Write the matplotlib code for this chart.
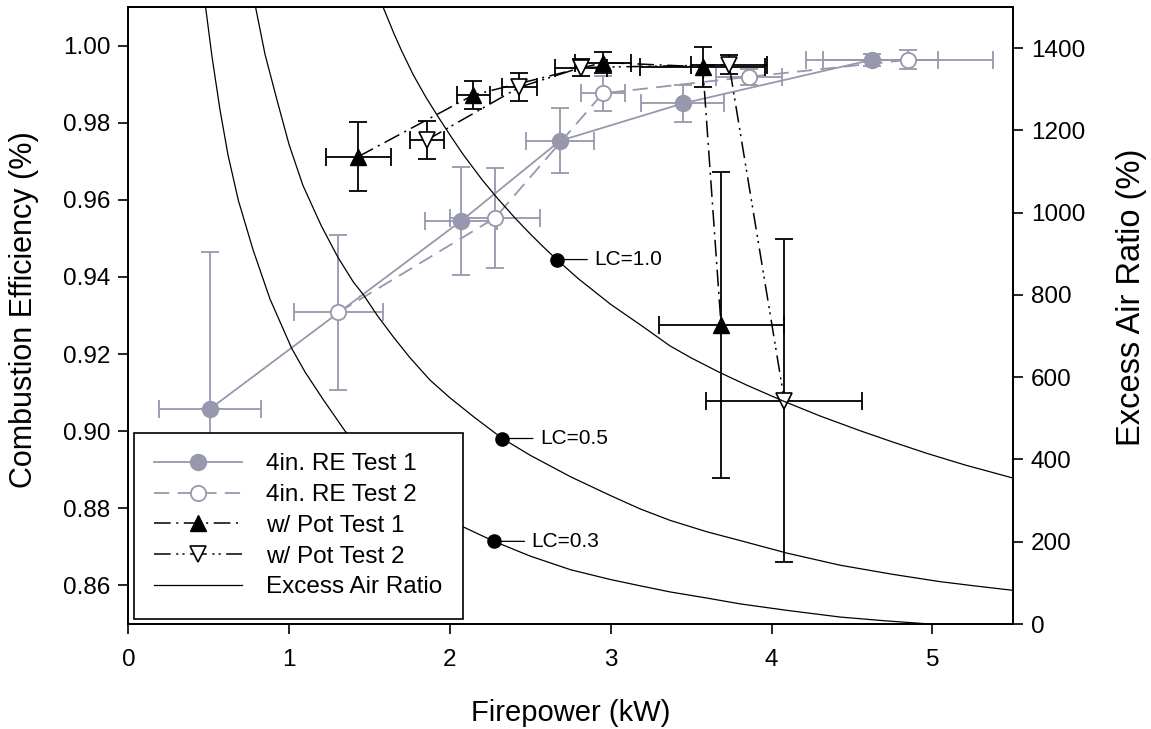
import numpy as np
import matplotlib
matplotlib.use("Agg")
from matplotlib import pyplot as plt
from matplotlib.lines import Line2D

plt.rcParams['font.family'] = ['Liberation Sans', 'DejaVu Sans']
plt.rcParams['lines.scale_dashes'] = False

# 4in. rocket elbow tests
re1_x = [0.508, 2.069, 2.684, 3.448, 4.623]
re1_y = [0.9058, 0.9545, 0.9753, 0.9850, 0.9963]
re1_xerr = [0.317, 0.224, 0.211, 0.258, 0.410]
re1_yerr = [0.0407, 0.0139, 0.0084, 0.0047, 0.0015]

re2_x = [1.306, 2.280, 2.950, 3.860, 4.849]
re2_y = [0.9308, 0.9553, 0.9876, 0.9919, 0.9963]
re2_xerr = [0.277, 0.280, 0.137, 0.205, 0.530]
re2_yerr = [0.0201, 0.0130, 0.0045, 0.0021, 0.0025]

# tests with pot
pot1_x = [1.430, 2.146, 2.954, 3.572, 3.686]
pot1_y = [0.9712, 0.9872, 0.9956, 0.9945, 0.9275]
pot1_xerr = [0.202, 0.100, 0.174, 0.390, 0.389]
pot1_yerr = [0.0089, 0.0036, 0.0027, 0.0052, 0.0397]

pot2_x = [1.856, 2.432, 2.815, 3.736, 4.080]
pot2_y = [0.9755, 0.9892, 0.9943, 0.9950, 0.9079]
pot2_xerr = [0.106, 0.109, 0.162, 0.236, 0.485]
pot2_yerr = [0.0049, 0.0036, 0.0021, 0.0025, 0.0419]

# excess air ratio curves
lc03_x = [0.481, 0.52, 0.57, 0.62, 0.684, 0.777, 0.881, 1.016, 1.1, 1.213, 1.348, 1.6, 1.85,
          2.083, 2.274, 2.5, 2.75, 3.0, 3.182, 3.369, 3.6, 3.804, 4.1, 4.426, 4.7, 4.986]
lc03_y = [1498, 1380, 1250, 1140, 1030, 908, 790, 670, 612, 545, 469, 370, 295,
          236, 201, 165, 132, 108, 93, 78, 63, 49, 33, 17, 8, 0]
lc05_x = [0.792, 0.85, 0.925, 1.0, 1.086, 1.2, 1.304, 1.4, 1.461, 1.55, 1.648, 1.75, 1.876,
          2.0, 2.15, 2.326, 2.5, 2.75, 3.0, 3.182, 3.369, 3.6, 3.804, 4.1, 4.426, 4.75,
          5.048, 5.3, 5.5]
lc05_y = [1498, 1385, 1273, 1165, 1066, 968, 891, 831, 801, 749, 698, 648, 593,
          550, 503, 451, 410, 358, 312, 280, 252, 224, 203, 172, 143, 121,
          103, 91, 82]
lc10_x = [1.586, 1.65, 1.70, 1.772, 1.85, 1.938, 2.0, 2.083, 2.2, 2.291, 2.4, 2.5, 2.591,
          2.664, 2.8, 3.0, 3.2, 3.369, 3.5, 3.68, 3.85, 4.073, 4.3, 4.55, 4.75, 4.965,
          5.2, 5.5]
lc10_y = [1498, 1437, 1393, 1335, 1281, 1226, 1189, 1141, 1080, 1037, 989, 948, 913,
          886, 839, 777, 723, 676, 647, 611, 580, 542, 506, 470, 443, 415,
          387, 355]

lc_labels = ['LC=1.0', 'LC=0.5', 'LC=0.3']
lc_mark_x = [2.664, 2.326, 2.274]
lc_mark_y = [886, 451, 201]

gray = '#9797ae'

fig = plt.figure(figsize=(11.51, 7.29), dpi=100)
ax1 = fig.add_axes([0.1115, 0.144, 0.7684, 0.8464])
ax2 = ax1.twinx()

ebkw = dict(fmt='none', capsize=6.5, elinewidth=1.3, capthick=1.3)
ax1.errorbar(re1_x, re1_y, yerr=re1_yerr, xerr=re1_xerr, ecolor=gray, **ebkw)
ax1.errorbar(re2_x, re2_y, yerr=re2_yerr, xerr=re2_xerr, ecolor=gray, **ebkw)
ax1.plot(re1_x, re1_y, color=gray, lw=1.3, marker='o', ms=11.5, mfc=gray, mec=gray)
ax1.plot(re2_x, re2_y, color=gray, lw=1.3, dashes=(11, 6), marker='o', ms=11,
         mfc='white', mec=gray, mew=1.3)

ax1.errorbar(pot1_x, pot1_y, yerr=pot1_yerr, xerr=pot1_xerr, ecolor='k', **ebkw)
ax1.errorbar(pot2_x, pot2_y, yerr=pot2_yerr, xerr=pot2_xerr, ecolor='k', **ebkw)
ax1.plot(pot1_x, pot1_y, color='k', lw=1.1, dashes=(12, 4, 1.5, 4), marker='^', ms=11.5,
         mfc='k', mec='k')
ax1.plot(pot2_x, pot2_y, color='k', lw=1.1, dashes=(12, 4, 1.5, 3, 1.5, 4), marker='v', ms=11.5,
         mfc='white', mec='k', mew=1.2)

ax1.set_xlim(0, 5.5)
ax1.set_ylim(0.85, 1.01)
ax1.set_xticks(range(0, 6))
ax1.set_yticks(np.arange(0.86, 1.001, 0.02))
ax1.set_yticklabels(['%.2f' % v for v in np.arange(0.86, 1.001, 0.02)])

for curve_x, curve_y in [(lc03_x, lc03_y), (lc05_x, lc05_y), (lc10_x, lc10_y)]:
    ax2.plot(curve_x, curve_y, color='k', lw=0.9)
ax2.plot(lc_mark_x, lc_mark_y, 'o', color='k', ms=9.5)
for lab, mx, my in zip(lc_labels, lc_mark_x, lc_mark_y):
    ax2.annotate(lab, xy=(mx, my), xytext=(27, 0), textcoords='offset points',
                 va='center', ha='left', fontsize=15,
                 arrowprops=dict(arrowstyle='-', color='k', lw=0.9, shrinkA=3, shrinkB=0))
ax2.set_ylim(0, 1500)
ax2.set_yticks(range(0, 1401, 200))

for ax in (ax1, ax2):
    for sp in ax.spines.values():
        sp.set_linewidth(1.3)
ax1.tick_params(axis='both', direction='out', length=7, width=1.2, labelsize=17.5, pad=6)
ax1.tick_params(axis='x', top=False, pad=11)
ax2.tick_params(axis='y', direction='out', length=7, width=1.2, labelsize=17.5, pad=6)

ax1.set_xlabel('Firepower (kW)', fontsize=21, labelpad=20)
ax1.set_ylabel('Combustion Efficiency (%)', fontsize=22, labelpad=17)
ax2.set_ylabel('Excess Air Ratio (%)', fontsize=23.5, labelpad=22)
ax1.yaxis.label.set_y(0.51)
ax2.yaxis.label.set_y(0.53)

handles = [
    Line2D([], [], color=gray, lw=1.3, marker='o', ms=11.5, mfc=gray, mec=gray),
    Line2D([], [], color=gray, lw=1.3, dashes=(11, 6), marker='o', ms=11, mfc='white', mec=gray, mew=1.3),
    Line2D([], [], color='k', lw=1.1, dashes=(12, 4, 1.5, 4), marker='^', ms=11.5, mfc='k', mec='k'),
    Line2D([], [], color='k', lw=1.1, dashes=(12, 4, 1.5, 3, 1.5, 4), marker='v', ms=11.5, mfc='white', mec='k', mew=1.2),
    Line2D([], [], color='k', lw=0.9),
]
names = ['4in. RE Test 1', '4in. RE Test 2', 'w/ Pot Test 1', 'w/ Pot Test 2', 'Excess Air Ratio']
leg = ax2.legend(handles, names, loc='lower left', bbox_to_anchor=(0.006, 0.008),
                 fontsize=17.5, frameon=True, fancybox=False, framealpha=1,
                 edgecolor='k', handlelength=3.6, handletextpad=1.0,
                 labelspacing=0.36, borderpad=0.85, borderaxespad=0)
leg.get_frame().set_linewidth(1.2)

fig.savefig('out.png', dpi=100)
